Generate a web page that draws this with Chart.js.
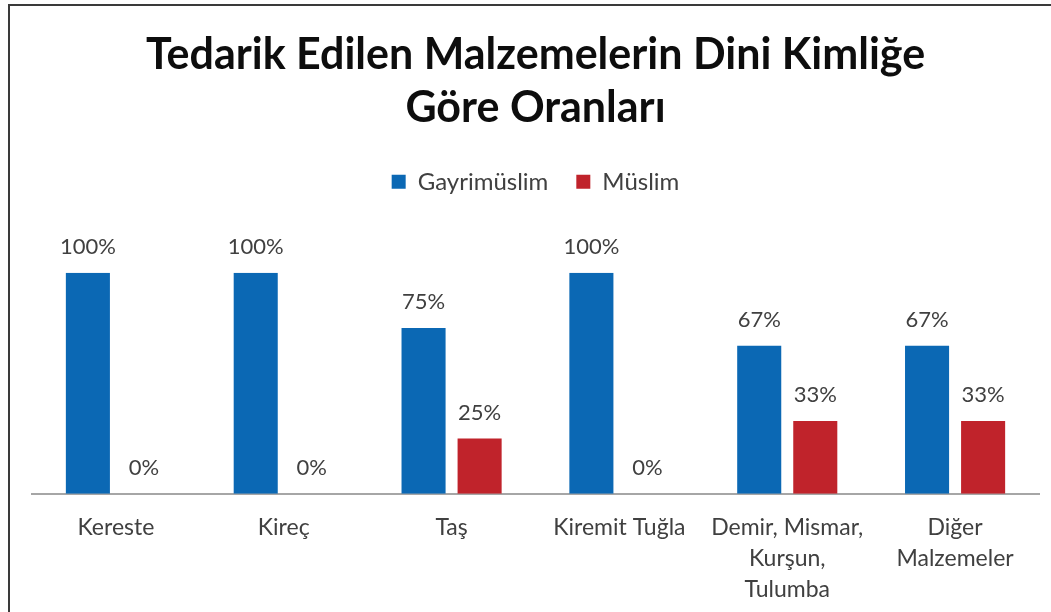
<!DOCTYPE html>
<html>
<head>
<meta charset="utf-8">
<script src="https://cdn.jsdelivr.net/npm/chart.js@4.4.0/dist/chart.umd.min.js"></script>
<style>
  html, body { margin: 0; padding: 0; background: #fff; }
  #wrap { width: 1051px; height: 612px; }
</style>
</head>
<body>
<div id="wrap"><canvas id="chart" width="1051" height="612"></canvas></div>
<script>
// chart data
const categories = ['Kereste', 'Kireç', 'Taş', 'Kiremit Tuğla',
    ['Demir, Mismar,', 'Kurşun,', 'Tulumba'], ['Diğer', 'Malzemeler']];
const seriesNames = ['Gayrimüslim', 'Müslim'];
const gayrimuslim = [100, 100, 75, 100, 67, 67];
const muslim = [0, 0, 25, 0, 33, 33];

const textFont = "Lato, 'Open Sans', sans-serif";

// white page + the frame lines at the top and left
const framePlugin = {
    id: 'frame',
    beforeDraw(chart) {
        const ctx = chart.ctx;
        ctx.save();
        ctx.fillStyle = '#fff';
        ctx.fillRect(0, 0, chart.width, chart.height);
        ctx.strokeStyle = '#3a3a3a';
        ctx.lineWidth = 2;
        ctx.beginPath();
        ctx.moveTo(9, chart.height);
        ctx.lineTo(9, 5);
        ctx.lineTo(chart.width, 5);
        ctx.stroke();
        ctx.restore();
    }
};

// leave some room between the legend and the bars
const legendGap = {
    id: 'legendGap',
    beforeInit(chart) {
        const fit = chart.legend.fit;
        chart.legend.fit = function () {
            fit.call(this);
            this.height += 69;
        };
    }
};

// percent labels above each bar
const valueLabels = {
    id: 'valueLabels',
    afterDatasetsDraw(chart) {
        const ctx = chart.ctx;
        ctx.save();
        ctx.font = '22px ' + textFont;
        ctx.fillStyle = '#404040';
        ctx.textAlign = 'center';
        ctx.textBaseline = 'middle';
        chart.data.datasets.forEach((ds, i) => {
            chart.getDatasetMeta(i).data.forEach((bar, j) => {
                ctx.fillText(ds.data[j] + '%', bar.x, bar.y - 26);
            });
        });
        ctx.restore();
    }
};

new Chart(document.getElementById('chart'), {
    type: 'bar',
    data: {
        labels: categories,
        datasets: [
            { label: seriesNames[0], data: gayrimuslim, backgroundColor: '#0b68b4' },
            { label: seriesNames[1], data: muslim, backgroundColor: '#c0232b' }
        ]
    },
    options: {
        responsive: false,
        animation: false,
        layout: { padding: { left: 32, right: 12, top: 0, bottom: -11 } },
        categoryPercentage: 0.668,
        barPercentage: 0.786,
        plugins: {
            title: {
                display: true,
                text: ['Tedarik Edilen Malzemelerin Dini Kimliğe', 'Göre Oranları'],
                color: '#0d0d0d',
                font: { family: textFont, size: 43, weight: 'bold', lineHeight: 1.23 },
                padding: { top: 29, bottom: 7 }
            },
            legend: {
                position: 'top',
                labels: {
                    boxWidth: 14,
                    boxHeight: 14,
                    padding: 28,
                    color: '#404040',
                    font: { family: textFont, size: 24 }
                }
            },
            tooltip: { enabled: false }
        },
        scales: {
            x: {
                grid: { display: false, drawTicks: false },
                border: { display: true, color: '#a6a6a6', width: 2 },
                ticks: {
                    color: '#404040',
                    padding: 18,
                    maxRotation: 0,
                    autoSkip: false,
                    font: { family: textFont, size: 23, lineHeight: 1.35 }
                }
            },
            y: {
                display: false,
                min: 0,
                max: 100
            }
        }
    },
    plugins: [framePlugin, legendGap, valueLabels]
});
</script>
</body>
</html>
